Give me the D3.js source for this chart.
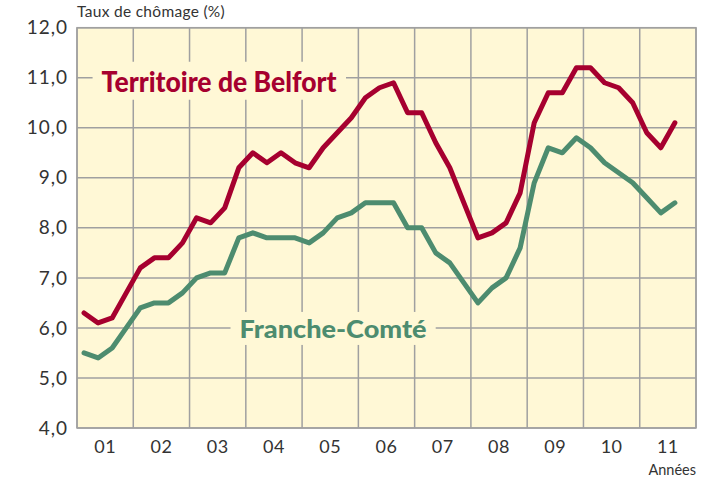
<!DOCTYPE html>
<html>
<head>
<meta charset="utf-8">
<style>
body { margin: 0; background: #fff; }
.grid line { stroke: #a0a0a0; stroke-width: 1.5; }
.tick-label { font-family: Lato, sans-serif; fill: #333; }
</style>
</head>
<body>
<svg width="718" height="480"></svg>
<script src="https://cdnjs.cloudflare.com/ajax/libs/d3/7.8.5/d3.min.js"></script>
<script>
// quarterly rates, 2001 Q1 -> 2011 Q3
var years = ["01", "02", "03", "04", "05", "06", "07", "08", "09", "10", "11"];
var yTicks = [4, 5, 6, 7, 8, 9, 10, 11, 12];
var belfort = [6.3, 6.1, 6.2, 6.7, 7.2, 7.4, 7.4, 7.7, 8.2, 8.1, 8.4, 9.2,
               9.5, 9.3, 9.5, 9.3, 9.2, 9.6, 9.9, 10.2, 10.6, 10.8, 10.9, 10.3,
               10.3, 9.7, 9.2, 8.5, 7.8, 7.9, 8.1, 8.7, 10.1, 10.7, 10.7, 11.2,
               11.2, 10.9, 10.8, 10.5, 9.9, 9.6, 10.1];
var franche = [5.5, 5.4, 5.6, 6.0, 6.4, 6.5, 6.5, 6.7, 7.0, 7.1, 7.1, 7.8,
               7.9, 7.8, 7.8, 7.8, 7.7, 7.9, 8.2, 8.3, 8.5, 8.5, 8.5, 8.0,
               8.0, 7.5, 7.3, 6.9, 6.5, 6.8, 7.0, 7.6, 8.9, 9.6, 9.5, 9.8,
               9.6, 9.3, 9.1, 8.9, 8.6, 8.3, 8.5];

var svg = d3.select("svg"),
    margin = {top: 27.7, right: 22, bottom: 52, left: 77},
    width = +svg.attr("width") - margin.left - margin.right,
    height = +svg.attr("height") - margin.top - margin.bottom,
    g = svg.append("g").attr("transform", "translate(" + margin.left + "," + margin.top + ")");

var bg = "#fff8d6";
var x = d3.scaleLinear().domain([0, years.length * 4]).range([0, width]);
var y = d3.scaleLinear().domain([4, 12]).range([height, 0]);

g.append("rect").attr("width", width).attr("height", height).attr("fill", bg);

// grid
var grid = g.append("g").attr("class", "grid");
grid.selectAll(".h").data(yTicks).enter().append("line")
    .attr("x1", 0).attr("x2", width)
    .attr("y1", function(d) { return y(d); }).attr("y2", function(d) { return y(d); });
grid.selectAll(".v").data(d3.range(years.length + 1)).enter().append("line")
    .attr("x1", function(d) { return x(d * 4); }).attr("x2", function(d) { return x(d * 4); })
    .attr("y1", 0).attr("y2", height);

// labels boxes hide the grid under them
function seriesLabel(txt, color, qx, val, size, len) {
  var t = g.append("text")
      .attr("x", x(qx)).attr("y", y(val))
      .attr("text-anchor", "middle")
      .attr("font-family", "Lato, sans-serif")
      .attr("font-weight", "900")
      .attr("font-size", size)
      .attr("textLength", len)
      .attr("lengthAdjust", "spacingAndGlyphs")
      .attr("fill", color)
      .text(txt);
  var b = t.node().getBBox();
  g.insert("rect", function() { return t.node(); })
      .attr("x", b.x - 9).attr("y", b.y - 2)
      .attr("width", b.width + 18).attr("height", b.height + 4)
      .attr("fill", bg);
}

var line = d3.line()
    .x(function(d, i) { return x(i + 0.5); })
    .y(function(d) { return y(d); });

g.append("path").datum(franche)
    .attr("fill", "none").attr("stroke", "#4d8c6f").attr("stroke-width", 5)
    .attr("stroke-linejoin", "round").attr("stroke-linecap", "round")
    .attr("d", line);
g.append("path").datum(belfort)
    .attr("fill", "none").attr("stroke", "#a6002f").attr("stroke-width", 5)
    .attr("stroke-linejoin", "round").attr("stroke-linecap", "round")
    .attr("d", line);

seriesLabel("Territoire de Belfort", "#a6002f", 10.1, 10.72, 28, 235);
seriesLabel("Franche-Comté", "#4d8c6f", 18.2, 5.8, 24, 187);

// frame on top
g.append("rect").attr("width", width).attr("height", height)
    .attr("fill", "none").attr("stroke", "#a0a0a0").attr("stroke-width", 1.5);

// y tick labels
g.selectAll(".ylab").data(yTicks).enter().append("text")
    .attr("class", "tick-label")
    .attr("x", -9).attr("y", function(d) { return y(d); })
    .attr("dy", "0.35em")
    .attr("text-anchor", "end")
    .attr("font-size", 19)
    .attr("letter-spacing", 1)
    .text(function(d) { return d3.format(".1f")(d).replace(".", ","); });

// x labels centered in each year column
g.selectAll(".xlab").data(years).enter().append("text")
    .attr("class", "tick-label")
    .attr("x", function(d, i) { return x(i * 4 + 2); })
    .attr("y", height + 25)
    .attr("text-anchor", "middle")
    .attr("font-size", 18)
    .attr("letter-spacing", 0.5)
    .text(function(d) { return d; });

svg.append("text")
    .attr("class", "tick-label")
    .attr("x", margin.left).attr("y", 17.3)
    .attr("font-size", 15.5)
    .attr("letter-spacing", 0.3)
    .text("Taux de chômage (%)");

svg.append("text")
    .attr("class", "tick-label")
    .attr("x", margin.left + width).attr("y", 475)
    .attr("text-anchor", "end")
    .attr("font-size", 14.5)
    .text("Années");
</script>
</body>
</html>
